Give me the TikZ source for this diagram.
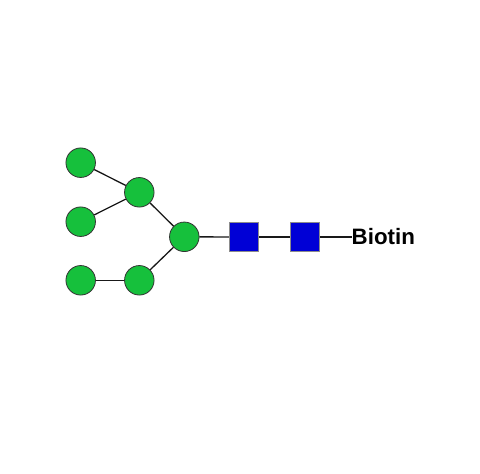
\documentclass[tikz,border=0pt]{standalone}
\usepackage{fontspec}
\setmainfont{Liberation Sans}
\definecolor{glcgreen}{RGB}{22,192,60}
\definecolor{glcblue}{RGB}{0,0,214}
\begin{document}
\begin{tikzpicture}[x=1pt,y=-1pt,
  gal/.style={circle,draw=black!80,line width=0.8pt,fill=glcgreen,minimum size=29.5pt,inner sep=0pt},
  nac/.style={rectangle,draw=black!45,line width=0.8pt,fill=glcblue,minimum size=29.5pt,inner sep=0pt},
  bond/.style={line width=1.3pt,black!90}]
\useasboundingbox (0,0) rectangle (480,474);
\fill[white] (0,0) rectangle (480,474);
\coordinate (bioend) at (351.5,237);
\node[gal] (m1) at (80.7,162.7) {};
\node[gal] (m2) at (139.3,192.3) {};
\node[gal] (m3) at (80.7,221.7) {};
\node[gal] (m4) at (184.3,236.8) {};
\node[gal] (m5) at (80.7,280.3) {};
\node[gal] (m6) at (139.3,280.3) {};
\node[nac] (n1) at (244,237) {};
\node[nac] (n2) at (304.7,237) {};
\node[anchor=west,inner sep=0pt,font=\bfseries\fontsize{22.3}{24}\selectfont] (bio) at (bioend) {Biotin};
\draw[bond] (m1) -- (m2);
\draw[bond] (m3) -- (m2);
\draw[bond] (m2) -- (m4);
\draw[bond] (m5) -- (m6);
\draw[bond] (m6) -- (m4);
\draw[bond] (m4) -- (n1);
\draw[bond] (n1) -- (n2);
\draw[bond] (n2) -- (bioend);
\end{tikzpicture}
\end{document}
